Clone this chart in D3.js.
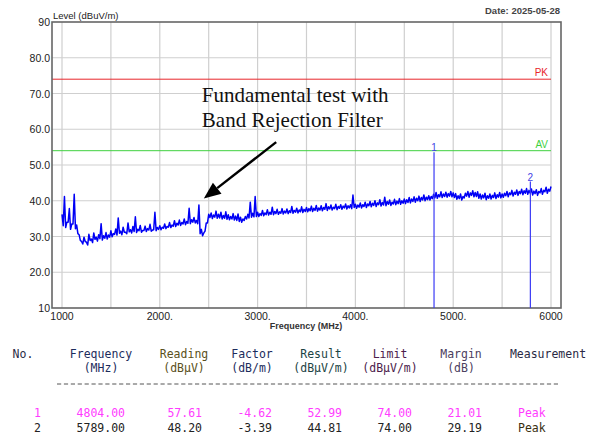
<!DOCTYPE html>
<html>
<head>
<meta charset="utf-8">
<script src="https://cdn.jsdelivr.net/npm/d3@7"></script>
<style>
  body { margin: 0; background: #fff; }
  .mono { font-family: "DejaVu Sans Mono", "Liberation Mono", monospace; font-size: 11.5px; }
</style>
</head>
<body>
<svg id="chart" width="595" height="440" font-family="'Liberation Sans', Arial, sans-serif"></svg>
<script>
// spectrum trace peaks, 1000 MHz .. 6000 MHz every 25 MHz
const traceStart = 1000, traceStep = 25;
const traceLevel = [
  36.2, 41.2, 34.0, 37.8, 33.5, 41.8, 33.2, 30.5,
  28.6, 29.8, 28.4, 30.6, 29.3, 31.0, 29.8, 30.5, 33.6, 30.2, 31.1, 30.4, 31.6,
  30.8, 32.1, 35.2, 31.5, 32.6, 31.2, 33.8, 31.9, 32.8, 35.5, 32.0, 33.1, 31.7, 32.9, 32.2, 33.4, 31.8, 36.8, 32.5, 33.0,
  32.6, 33.5, 32.8, 33.9, 33.2, 34.4, 33.7, 34.6, 33.9, 34.9, 34.2, 37.9, 34.7, 35.3, 34.5, 38.8, 32.0, 31.0, 33.8, 36.2,
  36.6, 36.0, 37.1, 36.2, 36.8, 35.9, 36.9, 36.1, 35.6, 36.4, 35.7, 36.3, 35.4, 34.9, 35.6, 36.2, 39.6, 36.5, 41.2, 36.8,
  36.4, 37.3, 36.6, 37.5, 36.8, 38.2, 37.0, 37.6, 36.9, 37.8, 37.1, 37.7, 37.2, 38.4, 37.3, 37.9, 37.4, 38.3, 37.6, 38.1,
  37.8, 38.5, 37.9, 38.7, 38.0, 38.6, 38.1, 39.2, 38.3, 38.8, 38.2, 39.0, 38.4, 38.9, 38.5, 39.1, 38.6, 38.9, 41.6, 39.0,
  38.8, 39.4, 38.9, 39.6, 39.1, 39.8, 39.3, 40.0, 39.4, 40.3, 39.5, 41.0, 39.8, 40.2, 39.6, 40.4, 39.9, 40.6, 40.0, 40.5,
  40.3, 40.9, 40.5, 41.1, 40.7, 41.3, 40.9, 41.6, 41.0, 41.4, 41.2, 41.8, 42.3, 41.7, 42.5, 41.9, 42.4, 42.0, 42.6, 42.2,
  42.0, 41.4, 41.9, 41.2, 42.1, 42.6, 42.2, 42.8, 42.3, 42.5, 41.9, 41.6, 42.1, 41.4, 41.9, 41.5, 42.2, 41.7, 42.3, 41.9,
  42.1, 42.6, 42.2, 42.9, 42.4, 43.0, 42.6, 43.2, 42.8, 43.4, 42.9, 43.3, 42.7, 43.1, 42.6, 43.4, 42.9, 43.8, 43.2, 44.0
];
// trace troughs, halfway between the peaks (1012.5 .. 5987.5 MHz)
const traceLow = [
  33.0, 32.5, 34.0, 32.0, 33.5, 32.2, 30.8, 28.9,
  27.9, 28.6, 27.6, 28.9, 28.3, 29.2, 28.7, 29.4, 29.0, 29.5, 29.3, 29.8,
  29.9, 30.6, 30.4, 30.9, 30.5, 31.2, 30.8, 31.3, 31.0, 31.4, 31.1, 31.6, 31.2, 31.7, 31.4, 31.8, 31.5, 31.9, 31.6, 32.0,
  31.9, 32.3, 32.2, 32.6, 32.5, 32.9, 32.8, 33.2, 33.1, 33.5, 33.3, 33.7, 33.6, 34.0, 33.8, 33.6, 30.8, 30.2, 31.5, 33.8,
  35.3, 35.0, 35.4, 35.1, 35.2, 34.9, 35.1, 34.8, 34.7, 34.9, 34.6, 34.5, 34.2, 34.0, 34.5, 34.9, 35.2, 35.4, 35.5, 35.6,
  35.6, 35.9, 35.8, 36.1, 36.0, 36.2, 36.1, 36.4, 36.2, 36.5, 36.3, 36.6, 36.4, 36.7, 36.5, 36.8, 36.6, 36.9, 36.7, 37.0,
  36.9, 37.2, 37.0, 37.3, 37.1, 37.4, 37.2, 37.6, 37.3, 37.7, 37.4, 37.8, 37.5, 37.9, 37.6, 38.0, 37.7, 38.0, 37.8, 38.1,
  37.9, 38.2, 38.0, 38.4, 38.1, 38.6, 38.3, 38.7, 38.4, 38.9, 38.5, 38.8, 38.6, 39.0, 38.7, 39.1, 38.9, 39.2, 39.0, 39.3,
  39.2, 39.5, 39.4, 39.8, 39.6, 40.0, 39.8, 40.2, 40.0, 40.3, 40.2, 40.6, 40.8, 40.7, 41.1, 40.9, 41.2, 41.0, 41.3, 41.1,
  40.9, 40.4, 40.6, 40.2, 40.8, 41.3, 41.0, 41.5, 41.1, 41.2, 40.7, 40.5, 40.8, 40.3, 40.7, 40.5, 40.9, 40.6, 41.0, 40.8,
  41.0, 41.4, 41.1, 41.7, 41.3, 41.8, 41.5, 42.0, 41.7, 42.1, 41.8, 42.1, 41.6, 42.0, 41.5, 42.2, 41.8, 42.5, 42.1, 42.7
];

const xTicks = [1000, 2000, 3000, 4000, 5000, 6000];
const xTickLabels = ["1000", "2000.", "3000.", "4000.", "5000.", "6000"];
const xGrid = [1000, 1500, 2000, 2500, 3000, 3500, 4000, 4500, 5000, 5500, 6000];
const yTicks = [90, 80, 70, 60, 50, 40, 30, 20, 10];
const yTickLabels = ["90", "80.0", "70.0", "60.0", "50.0", "40.0", "30.0", "20.0", "10"];
const yGrid = [80, 70, 60, 50, 40, 30, 20];

const limitNames = ["PK", "AV"];
const limitValues = [74, 54];

const markerNo = [1, 2];
const markerFreq = [4804, 5789];
const markerLevel = [52.99, 44.81];

const headTop = ["No.", "Frequency", "Reading", "Factor", "Result", "Limit", "Margin", "Measurement"];
const headBottom = ["", "(MHz)", "(dBµV)", "(dB/m)", "(dBµV/m)", "(dBµV/m)", "(dB)", ""];
const rowFreq = ["4804.00", "5789.00"];
const rowReading = ["57.61", "48.20"];
const rowFactor = ["-4.62", "-3.39"];
const rowResult = ["52.99", "44.81"];
const rowLimit = ["74.00", "74.00"];
const rowMargin = ["21.01", "29.19"];
const rowMeasure = ["Peak", "Peak"];

// annotation, in data units: text anchor, arrow tail, arrow tip
const noteLines = ["Fundamental test with", "Band Rejection Filter"];
const notePos = [2430, 67.6];
const arrowFrom = [3190, 56.4];
const arrowTo = [2450, 40.6];

const svg = d3.select("#chart");

const x = d3.scaleLinear().domain([1000, 6000]).range([62, 551]);
const y = d3.scaleLinear().domain([10, 90]).range([308, 22]);
const frameL = 52, frameR = 561;

// grid
svg.append("g").selectAll("line").data(xGrid).join("line")
  .attr("x1", d => x(d)).attr("x2", d => x(d))
  .attr("y1", y(90)).attr("y2", y(10))
  .attr("stroke", "#cfcfcf").attr("stroke-width", 1.2);
svg.append("g").selectAll("line").data(yGrid).join("line")
  .attr("x1", frameL).attr("x2", x(6000))
  .attr("y1", d => y(d)).attr("y2", d => y(d))
  .attr("stroke", "#cfcfcf").attr("stroke-width", 1.2);

// limit lines
const limitColor = ["#e8262b", "#3fd13f"];
limitValues.forEach((v, i) => {
  svg.append("line")
    .attr("x1", frameL).attr("x2", x(6000))
    .attr("y1", y(v)).attr("y2", y(v))
    .attr("stroke", limitColor[i]).attr("stroke-width", 1);
  svg.append("text")
    .attr("x", x(6000) - 3).attr("y", y(v) - 3)
    .attr("text-anchor", "end").attr("font-size", 10)
    .attr("fill", limitColor[i])
    .text(limitNames[i]);
});

// frame
svg.append("rect")
  .attr("x", frameL).attr("y", y(90))
  .attr("width", frameR - frameL).attr("height", y(10) - y(90))
  .attr("fill", "none").attr("stroke", "#666").attr("stroke-width", 1.6);

// trace: peaks and troughs interleaved
const pts = [];
traceLevel.forEach((v, i) => {
  pts.push([traceStart + i * traceStep, v]);
  if (i < traceLow.length) pts.push([traceStart + (i + 0.5) * traceStep, traceLow[i]]);
});
const line = d3.line()
  .x(d => x(d[0]))
  .y(d => y(d[1]));
svg.append("path")
  .datum(pts)
  .attr("d", line)
  .attr("fill", "none")
  .attr("stroke", "#0000f5")
  .attr("stroke-width", 1.5)
  .attr("stroke-linejoin", "round");

// markers
const mk = svg.append("g");
markerFreq.forEach((f, i) => {
  mk.append("line")
    .attr("x1", x(f)).attr("x2", x(f))
    .attr("y1", y(10)).attr("y2", y(markerLevel[i]) - 2)
    .attr("stroke", "#3a3af5").attr("stroke-width", 1.2);
  mk.append("text")
    .attr("x", x(f)).attr("y", y(markerLevel[i]) - 3)
    .attr("text-anchor", "middle").attr("font-size", 10)
    .attr("fill", "#4444e4")
    .text(markerNo[i]);
});

// axes labels
svg.append("g").selectAll("text").data(yTicks).join("text")
  .attr("x", 50).attr("y", d => y(d) + 4)
  .attr("text-anchor", "end").attr("font-size", 10.5)
  .attr("fill", "#222")
  .text((d, i) => yTickLabels[i]);
svg.append("g").selectAll("text").data(xTicks).join("text")
  .attr("x", d => x(d)).attr("y", 320)
  .attr("text-anchor", "middle").attr("font-size", 10.5)
  .attr("fill", "#222")
  .text((d, i) => xTickLabels[i]);

svg.append("text").attr("x", 53).attr("y", 19)
  .attr("font-size", 9.5).attr("fill", "#222")
  .text("Level (dBuV/m)");
svg.append("text").attr("x", 306).attr("y", 329)
  .attr("text-anchor", "middle").attr("font-size", 9).attr("font-weight", "bold")
  .attr("fill", "#333")
  .text("Frequency (MHz)");
svg.append("text").attr("x", 560).attr("y", 14)
  .attr("text-anchor", "end").attr("font-size", 9.5).attr("font-weight", "bold")
  .attr("fill", "#444")
  .text("Date: 2025-05-28");

// annotation
const note = svg.append("text")
  .attr("font-family", "'Liberation Serif', 'Times New Roman', serif")
  .attr("font-size", 21).attr("fill", "#111");
noteLines.forEach((t, i) => {
  note.append("tspan")
    .attr("x", x(notePos[0])).attr("y", y(notePos[1]) + i * 25)
    .text(t);
});
const ax0 = x(arrowFrom[0]), ay0 = y(arrowFrom[1]);
const ax1 = x(arrowTo[0]), ay1 = y(arrowTo[1]);
const ang = Math.atan2(ay1 - ay0, ax1 - ax0);
const headLen = 17, headW = 7;
const bx = ax1 - headLen * Math.cos(ang), by = ay1 - headLen * Math.sin(ang);
svg.append("line")
  .attr("x1", ax0).attr("y1", ay0).attr("x2", bx).attr("y2", by)
  .attr("stroke", "#000").attr("stroke-width", 2.4);
svg.append("path")
  .attr("d", d3.line()([
    [ax1, ay1],
    [bx + headW * Math.sin(ang), by - headW * Math.cos(ang)],
    [bx - headW * Math.sin(ang), by + headW * Math.cos(ang)]
  ]) + "Z")
  .attr("fill", "#000");

// results table
const headX = [23, 101, 184, 252, 321, 390, 461, 548];
const headColor = ["#2a2a44", "#1c2c5c", "#5a5020", "#1c2c5c", "#1c4444", "#4c1c4c", "#4c4060", "#2a2a44"];
const tbl = svg.append("g");
headTop.forEach((t, i) => {
  tbl.append("text").attr("class", "mono")
    .attr("x", headX[i]).attr("y", 358).attr("text-anchor", "middle")
    .attr("fill", headColor[i]).text(t);
  tbl.append("text").attr("class", "mono")
    .attr("x", headX[i]).attr("y", 372).attr("text-anchor", "middle")
    .attr("fill", headColor[i]).text(headBottom[i]);
});
tbl.append("line")
  .attr("x1", 57).attr("x2", 558).attr("y1", 384).attr("y2", 384)
  .attr("stroke", "#555").attr("stroke-width", 1)
  .attr("stroke-dasharray", "4.2,2.7");

const colRight = [41, 125, 202, 272, 342, 412, 482];
const rowColor = ["#ff3cff", "#222"];
const cols = [markerNo.map(String), rowFreq, rowReading, rowFactor, rowResult, rowLimit, rowMargin];
[0, 1].forEach(r => {
  const yy = 417 + r * 15;
  cols.forEach((c, j) => {
    tbl.append("text").attr("class", "mono")
      .attr("x", colRight[j]).attr("y", yy).attr("text-anchor", "end")
      .attr("fill", rowColor[r]).text(c[r]);
  });
  tbl.append("text").attr("class", "mono")
    .attr("x", 518).attr("y", yy)
    .attr("fill", r === 0 ? rowColor[0] : "#3a3010").text(rowMeasure[r]);
});
</script>
</body>
</html>
